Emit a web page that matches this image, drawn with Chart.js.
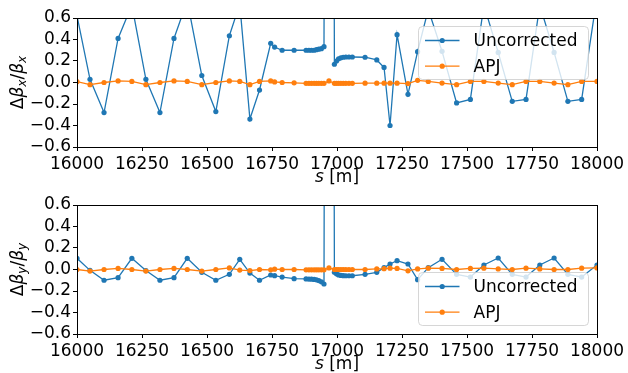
<!DOCTYPE html>
<html>
<head>
<meta charset="utf-8">
<script src="https://cdn.jsdelivr.net/npm/chart.js@4.4.0/dist/chart.umd.min.js"></script>
<style>
html, body { margin: 0; padding: 0; background: #fff; }
#wrap { position: relative; width: 628px; height: 373px; overflow: hidden; }
canvas { position: absolute; left: 0; }
</style>
</head>
<body>
<div id="wrap">
  <canvas id="topChart" width="628" height="198" style="top:0"></canvas>
  <canvas id="botChart" width="628" height="197" style="top:186px"></canvas>
</div>
<script>
// BPM positions along the ring [m]
const sPos = [
  16000, 16050, 16104, 16158, 16211, 16265, 16319, 16373, 16424, 16480,
  16534, 16586, 16626, 16665, 16702, 16745, 16760, 16789, 16835,
  16881, 16892, 16902, 16912, 16921, 16930, 16940, 16950,
  16969,
  16990, 16998, 17006, 17015, 17024, 17034, 17046, 17059,
  17108, 17153, 17181, 17204, 17231, 17273, 17310, 17351, 17404, 17460,
  17513, 17565, 17620, 17674, 17727, 17780, 17835, 17888, 17941, 18000
];

// horizontal beta-beat
const uncorrX = [
  0.62, 0.03, -0.28, 0.41, 0.72, 0.03, -0.28, 0.41, 0.76, 0.065,
  -0.27, 0.435, 0.73, -0.34, -0.07, 0.365, 0.33, 0.30, 0.30,
  0.30, 0.30, 0.30, 0.30, 0.305, 0.31, 0.315, 0.333,
  20,
  0.17, 0.20, 0.22, 0.23, 0.235, 0.237, 0.237, 0.237,
  0.235, 0.21, 0.14, -0.40, 0.445, -0.11, 0.287, 0.68, 0.29, -0.19,
  -0.157, 0.72, 0.28, -0.175, -0.157, 0.72, 0.28, -0.175, -0.157, 0.8
];
const apjX = [
  0.008, -0.02, 0.0, 0.015, 0.01, -0.02, 0.0, 0.015, 0.01, -0.02,
  0.0, 0.015, 0.01, -0.02, 0.01, 0.015, 0.005, 0.0, -0.003,
  -0.008, -0.008, -0.008, -0.008, -0.008, -0.008, -0.008, -0.008,
  0.015,
  -0.008, -0.008, -0.008, -0.008, -0.008, -0.008, -0.008, -0.008,
  -0.006, -0.006, -0.006, -0.006, -0.006, -0.01, 0.02, 0.01, -0.005, -0.02,
  0.01, 0.01, -0.005, -0.02, 0.01, 0.01, -0.005, -0.02, 0.01, 0.01
];

// vertical beta-beat
const uncorrY = [
  0.104, -0.008, -0.10, -0.076, 0.104, -0.01, -0.10, -0.076, 0.104, -0.026,
  -0.10, -0.045, 0.095, -0.033, -0.10, -0.051, -0.057, -0.07, -0.085,
  -0.088, -0.089, -0.09, -0.092, -0.096, -0.103, -0.115, -0.135,
  20,
  -0.025, -0.04, -0.05, -0.055, -0.057, -0.058, -0.058, -0.058,
  -0.045, -0.026, 0.017, 0.051, 0.082, 0.051, -0.095, 0.017, 0.095, -0.045,
  -0.07, 0.042, 0.107, -0.045, -0.07, 0.042, 0.107, -0.045, -0.07, 0.042
];
const apjY = [
  0.0, -0.015, 0.0, 0.01, 0.0, -0.015, 0.0, 0.01, 0.0, -0.015,
  0.0, 0.015, -0.005, -0.01, 0.0, -0.003, 0.003, 0.0, 0.0,
  -0.003, -0.003, -0.003, -0.003, -0.003, -0.003, -0.003, -0.003,
  0.015,
  0.0, 0.0, 0.0, 0.0, 0.0, 0.0, 0.0, 0.0,
  0.0, 0.005, 0.008, 0.012, 0.01, -0.012, 0.005, 0.012, 0.01, 0.0,
  0.01, 0.012, 0.005, 0.0, 0.012, 0.005, 0.0, 0.0, 0.012, 0.015
];

const xTicks = [16000, 16250, 16500, 16750, 17000, 17250, 17500, 17750, 18000];
const yTicks = [-0.6, -0.4, -0.2, 0.0, 0.2, 0.4, 0.6];
const seriesNames = ['Uncorrected', 'APJ'];

const BLUE = '#1f77b4';
const ORANGE = '#ff7f0e';
const FONT = 'DejaVu Sans';

function toPts(vals) {
  return sPos.map((s, i) => ({ x: s, y: vals[i] }));
}

function fmtY(v) {
  if (Math.abs(v) < 1e-9) return '0.0';
  return (v < 0 ? '\u2212' : '') + Math.abs(v).toFixed(1);
}

// spines, axis titles and the in-plot legend
const decorPlugin = {
  id: 'decor',
  afterDraw(chart, args, opts) {
    const ctx = chart.ctx;
    const a = chart.chartArea;
    ctx.save();

    // frame round the axes
    ctx.strokeStyle = '#000';
    ctx.lineWidth = 1;
    ctx.strokeRect(Math.round(a.left) + 0.5, Math.round(a.top) + 0.5,
      Math.round(a.right - a.left), Math.round(a.bottom - a.top));

    // x title: s [m]
    const cx = (a.left + a.right) / 2;
    const ty = a.bottom + 31;
    ctx.fillStyle = '#000';
    ctx.textBaseline = 'middle';
    ctx.font = 'italic 17px ' + FONT;
    const w1 = ctx.measureText('s').width;
    ctx.font = '17px ' + FONT;
    const w2 = ctx.measureText(' [m]').width;
    let x0 = cx - (w1 + w2) / 2;
    ctx.textAlign = 'left';
    ctx.font = 'italic 17px ' + FONT;
    ctx.fillText('s', x0, ty);
    ctx.font = '17px ' + FONT;
    ctx.fillText(' [m]', x0 + w1, ty);

    // y title: Δβ_sub/β_sub, rotated
    const parts = [
      { t: '\u0394', f: '17px ' + FONT, dy: 0 },
      { t: '\u03b2', f: 'italic 17px ' + FONT, dy: 0 },
      { t: opts.sub, f: 'italic 12px ' + FONT, dy: 4 },
      { t: '/', f: '17px ' + FONT, dy: 0 },
      { t: '\u03b2', f: 'italic 17px ' + FONT, dy: 0 },
      { t: opts.sub, f: 'italic 12px ' + FONT, dy: 4 }
    ];
    let total = 0;
    parts.forEach(p => { ctx.font = p.f; p.w = ctx.measureText(p.t).width; total += p.w; });
    ctx.translate(19, (a.top + a.bottom) / 2);
    ctx.rotate(-Math.PI / 2);
    let px = -total / 2;
    parts.forEach(p => {
      ctx.font = p.f;
      ctx.fillText(p.t, px, p.dy);
      px += p.w;
    });
    ctx.setTransform(1, 0, 0, 1, 0, 0);

    // legend box
    const bw = 170, bh = 53;
    const bx = a.right - 8.5 - bw;
    const by = opts.legendPos === 'upper' ? a.top + 8.5 : a.bottom - 8.5 - bh;
    ctx.beginPath();
    ctx.roundRect(bx, by, bw, bh, 4);
    ctx.fillStyle = 'rgba(255,255,255,0.8)';
    ctx.fill();
    ctx.strokeStyle = 'rgba(204,204,204,0.8)';
    ctx.lineWidth = 1;
    ctx.stroke();

    const colors = [BLUE, ORANGE];
    const rows = [by + 14, by + 39.7];
    seriesNames.forEach((name, i) => {
      const ry = rows[i];
      ctx.strokeStyle = colors[i];
      ctx.lineWidth = 1.3;
      ctx.beginPath();
      ctx.moveTo(bx + 6.5, ry);
      ctx.lineTo(bx + 41, ry);
      ctx.stroke();
      ctx.fillStyle = colors[i];
      ctx.beginPath();
      ctx.arc(bx + 23.7, ry, 2.6, 0, Math.PI * 2);
      ctx.fill();
      ctx.fillStyle = '#000';
      ctx.font = '17px ' + FONT;
      ctx.textAlign = 'left';
      ctx.textBaseline = 'middle';
      ctx.fillText(name, bx + 55, ry + 1);
    });

    ctx.restore();
  }
};

// canvas is taller than its 186 px slot so the x title is not cut off
function makeChart(id, uncorr, apj, sub, legendPos, padTop, padBottom) {
  return new Chart(document.getElementById(id), {
    type: 'scatter',
    data: {
      datasets: [
        {
          label: seriesNames[0], data: toPts(uncorr), showLine: true,
          borderColor: BLUE, backgroundColor: BLUE, borderWidth: 1.3,
          pointRadius: 2.6, pointHoverRadius: 2.6, pointBorderWidth: 0, order: 1
        },
        {
          label: seriesNames[1], data: toPts(apj), showLine: true,
          borderColor: ORANGE, backgroundColor: ORANGE, borderWidth: 1.3,
          pointRadius: 2.6, pointHoverRadius: 2.6, pointBorderWidth: 0, order: 0
        }
      ]
    },
    options: {
      responsive: false,
      animation: false,
      devicePixelRatio: 1,
      layout: { padding: { top: padTop, right: 31, left: 0, bottom: padBottom } },
      plugins: {
        legend: { display: false },
        tooltip: { enabled: false },
        decor: { sub: sub, legendPos: legendPos }
      },
      scales: {
        x: {
          type: 'linear', min: 16000, max: 18000,
          afterBuildTicks: s => { s.ticks = xTicks.map(v => ({ value: v })); },
          ticks: {
            color: '#000', font: { family: FONT, size: 17 }, maxRotation: 0,
            autoSkip: false, padding: 3, callback: v => String(v)
          },
          grid: { drawOnChartArea: false, drawTicks: true, tickLength: 4, color: '#000' },
          border: { display: false },
          afterFit: s => { s.height = 39; }
        },
        y: {
          min: -0.6, max: 0.6,
          afterBuildTicks: s => { s.ticks = yTicks.map(v => ({ value: v })); },
          ticks: {
            color: '#000', font: { family: FONT, size: 17 },
            autoSkip: false, padding: 2, callback: v => fmtY(v)
          },
          grid: { drawOnChartArea: false, drawTicks: true, tickLength: 4, color: '#000' },
          border: { display: false },
          afterFit: s => { s.width = 77; }
        }
      }
    },
    plugins: [decorPlugin]
  });
}

// top: area 18..147 in a 198 px canvas; bottom: area 19..148 in a 197 px canvas
makeChart('topChart', uncorrX, apjX, 'x', 'upper', 18, 12);
makeChart('botChart', uncorrY, apjY, 'y', 'lower', 19, 10);
</script>
</body>
</html>
